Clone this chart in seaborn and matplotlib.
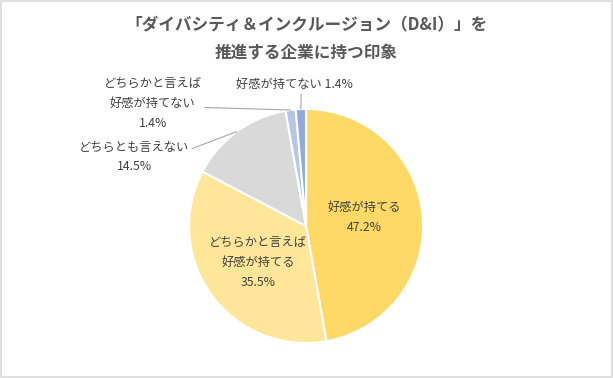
import numpy as np
import matplotlib
matplotlib.use("Agg")
import matplotlib.pyplot as plt
import matplotlib.patches as patches
import seaborn as sns

sns.set_theme(style="white")
plt.rcParams['font.family'] = ['Noto Sans CJK JP', 'DejaVu Sans']

# data (clockwise from 12 o'clock)
categories = ["好感が持てる", "どちらかと言えば\n好感が持てる", "どちらとも言えない",
              "どちらかと言えば\n好感が持てない", "好感が持てない"]
values = [47.2, 35.5, 14.5, 1.4, 1.4]
colors = ["#FFD966", "#FFE699", "#D9D9D9", "#B4C7E7", "#8FAADC"]
title_lines = ["「ダイバシティ＆インクルージョン（D&I）」を", "推進する企業に持つ印象"]

W, H = 613, 378
fig = plt.figure(figsize=(W / 100, H / 100), dpi=100)
ax = fig.add_axes([0, 0, 1, 1])

wedges, _ = ax.pie(values, colors=colors, startangle=90, counterclock=False,
                   radius=1.0, wedgeprops=dict(edgecolor="white", linewidth=1.5))

# place pie: center at (306, 226) px, radius 117 px
cx, cy, r = 306, 226, 117
ax.set_xlim(-cx / r, (W - cx) / r)
ax.set_ylim(-(H - cy) / r, cy / r)
ax.set_aspect('equal', adjustable='datalim')
ax.axis('off')

txt_color = "#404040"
line_color = "#A6A6A6"

def mid_point(w, rad=1.0):
    ang = np.deg2rad((w.theta1 + w.theta2) / 2)
    return rad * np.cos(ang), rad * np.sin(ang)

# inside labels
inside = {0: (0.50, 0.07), 1: (-0.41, -0.31)}
for i, pos in inside.items():
    ax.text(pos[0], pos[1], f"{categories[i]}\n{values[i]}%", ha='center', va='center',
            multialignment='center', fontsize=8.8, color=txt_color, linespacing=1.7)

# outside labels with leader lines
outside = [
    (2, f"{categories[2]}\n{values[2]}%", (-1.47, 0.59), (1, 0.72)),
    (3, f"{categories[3]}\n{values[3]}%", (-1.31, 1.05), (1, 0.42)),
    (4, f"{categories[4]} {values[4]}%", (-0.10, 1.21), (0.56, 0)),
]
for i, label, pos, rel in outside:
    ax.annotate(label, xy=mid_point(wedges[i], 1.0), xytext=pos,
                ha='center', va='center', multialignment='center',
                fontsize=8.8, color=txt_color, linespacing=1.7,
                arrowprops=dict(arrowstyle='-', color=line_color, lw=0.8,
                                shrinkA=0, shrinkB=0, relpos=rel))

# title
fig.text(0.5, 1 - 25 / H, title_lines[0], ha='center', va='center',
         fontsize=12, fontweight='bold', color="#595959")
fig.text(0.5, 1 - 53 / H, title_lines[1], ha='center', va='center',
         fontsize=12, fontweight='bold', color="#595959")

# chart border
fig.patches.append(patches.Rectangle((0.001, 0.002), 0.997, 0.996, transform=fig.transFigure,
                                     fill=False, edgecolor="#D9D9D9", lw=1.2))

fig.savefig("out.png", dpi=100, facecolor="white")
